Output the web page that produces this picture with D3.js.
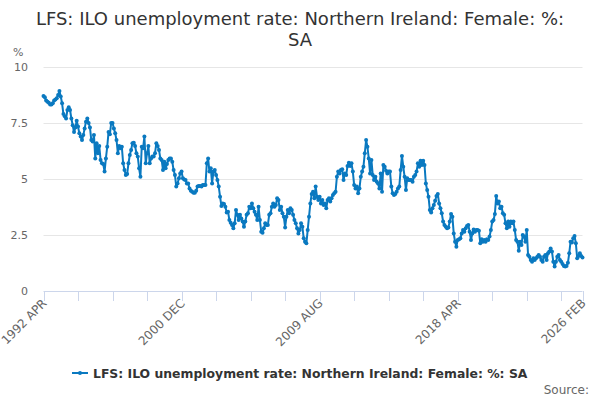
<!DOCTYPE html>
<meta charset="utf-8">
<style>
body { margin: 0; background: #fff; }
text { font-family: "DejaVu Sans", sans-serif; }
</style>
<svg width="600" height="400"></svg>
<script src="https://cdn.jsdelivr.net/npm/d3@7"></script>
<script>

// monthly values, April 1992 .. February 2026 (one row = Apr..Mar)
var rate = [
  8.7, 8.65, 8.5, 8.45, 8.4, 8.33, 8.33, 8.38, 8.5, 8.55, 8.6, 8.75,
  8.93, 8.68, 8.38, 7.9, 7.8, 7.7, 8.08, 8.2, 8.08, 7.7, 7.4, 7.1,
  7.3, 7.6, 7.34, 7.04, 6.9, 6.74, 6.96, 7.26, 7.56, 7.7, 7.5, 7.3,
  6.74, 6.67, 6.96, 5.92, 6.6, 6.15, 6.47, 5.85, 5.7, 5.67, 5.33, 5.92,
  6.44, 7.1, 7.0, 7.5, 7.5, 7.26, 7.04, 6.74, 6.15, 6.47, 6.37, 6.44,
  5.7, 5.4, 5.18, 5.22, 5.7, 6.07, 6.3, 6.6, 6.62, 6.47, 6.15, 6.0,
  5.48, 5.1, 6.44, 6.37, 6.9, 5.7, 6.15, 6.47, 5.7, 5.92, 6.0, 6.0,
  6.15, 6.6, 6.47, 6.3, 5.92, 5.85, 5.4, 5.77, 5.48, 5.67, 5.85, 5.92,
  5.92, 5.77, 5.4, 5.18, 4.66, 4.8, 5.03, 5.25, 5.33, 5.03, 4.98, 4.96,
  4.8, 4.8, 4.58, 4.48, 4.43, 4.39, 4.39, 4.48, 4.66, 4.69, 4.69, 4.66,
  4.73, 4.73, 4.73, 5.7, 5.92, 5.33, 5.48, 4.8, 5.33, 5.4, 5.18, 4.96,
  4.66, 4.21, 3.8, 3.91, 3.88, 3.76, 3.5, 3.54, 3.17, 3.05, 2.95, 2.8,
  3.02, 3.62, 3.4, 3.17, 3.4, 3.24, 3.1, 2.87, 3.1, 3.4, 3.47, 3.76,
  3.69, 3.91, 3.69, 3.54, 3.4, 3.17, 3.76, 3.17, 2.65, 2.6, 2.8, 3.02,
  2.95, 2.95, 3.4, 3.47, 3.76, 3.91, 3.76, 3.84, 4.14, 4.06, 3.62, 3.76,
  3.47, 3.32, 2.84, 3.32, 3.62, 3.47, 3.69, 3.62, 3.4, 3.17, 3.02, 2.8,
  2.57, 2.72, 3.02, 2.87, 2.35, 2.2, 2.13, 2.72, 3.32, 3.91, 4.33, 4.43,
  4.14, 4.66, 4.21, 4.06, 4.21, 3.91, 4.06, 3.84, 3.91, 3.69, 4.06, 4.14,
  3.99, 4.14, 4.29, 4.36, 4.43, 5.1, 5.33, 5.25, 5.4, 5.43, 4.96, 5.25,
  5.18, 5.58, 5.73, 5.58, 5.7, 5.33, 4.73, 4.58, 4.66, 4.36, 4.58, 5.1,
  5.33, 5.55, 6.15, 6.74, 6.44, 5.92, 5.25, 5.85, 5.18, 4.96, 5.1, 4.88,
  4.8, 4.58, 5.25, 4.43, 5.63, 5.55, 5.37, 5.25, 5.33, 5.33, 4.66, 4.36,
  4.29, 4.33, 4.43, 4.58, 4.66, 5.4, 6.03, 5.55, 5.1, 4.51, 5.03, 4.96,
  4.96, 4.96, 4.88, 5.1, 5.18, 5.33, 5.7, 5.55, 5.82, 5.63, 5.82, 5.63,
  4.8, 4.51, 4.21, 3.62, 3.5, 3.69, 3.84, 4.03, 4.24, 4.33, 3.91, 3.69,
  3.47, 3.1, 2.95, 2.87, 2.8, 2.84, 3.1, 3.44, 3.32, 2.57, 2.2, 1.98,
  2.28, 2.31, 2.35, 2.57, 2.72, 2.65, 2.8, 2.9, 2.95, 2.65, 2.28, 2.57,
  2.75, 2.65, 2.72, 2.72, 2.69, 2.13, 2.31, 2.2, 2.28, 2.2, 2.31, 2.28,
  2.43, 2.72, 3.1, 3.17, 3.44, 4.24, 3.91, 3.99, 3.69, 3.76, 3.47, 3.4,
  3.02, 2.8, 3.1, 2.87, 3.1, 3.02, 3.1, 2.72, 2.28, 2.2, 1.8, 2.2,
  2.05, 2.5, 2.43, 2.2, 2.72, 1.61, 1.53, 1.38, 1.31, 1.46, 1.38, 1.46,
  1.53, 1.61, 1.53, 1.38, 1.31, 1.53, 1.61, 1.38, 1.68, 1.76, 1.9, 1.76,
  1.31, 1.09, 1.31, 1.53, 1.61, 1.38, 1.31, 1.21, 1.12, 1.09, 1.12, 1.26,
  1.68, 2.2, 2.16, 2.35, 2.46, 2.13, 1.46, 1.56, 1.68, 1.56, 1.5
];

var startYear = 1992, startMonth = 3;   // April (0-based)
var monthNames = ["JAN", "FEB", "MAR", "APR", "MAY", "JUN", "JUL", "AUG", "SEP", "OCT", "NOV", "DEC"];
var yTicks = [0, 2.5, 5, 7.5, 10];
var tickStep = 26;          // months between x ticks
var labelEvery = 4;         // label every 4th tick
var titleLines = ["LFS: ILO unemployment rate: Northern Ireland: Female: %:", "SA"];
var seriesName = "LFS: ILO unemployment rate: Northern Ireland: Female: %: SA";

var colour = "#0a79c0";

// note: "top" is taken by window.top, so use plot* names
var svg = d3.select("svg"),
    plotLeft = 43.5, plotRight = 582.5, plotTop = 67, plotBottom = 291;

var last = rate.length - 1;

var x = d3.scaleLinear().domain([0, last]).range([plotLeft, plotRight]);
var y = d3.scaleLinear().domain([0, 10]).range([plotBottom, plotTop]);

function label(i) {
  var m = startMonth + i;
  return (startYear + Math.floor(m / 12)) + " " + monthNames[m % 12];
}

// title
svg.append("text")
    .attr("x", 300)
    .attr("y", 25)
    .attr("text-anchor", "middle")
    .attr("font-size", 18)
    .attr("fill", "#333")
  .selectAll("tspan")
  .data(titleLines)
  .enter().append("tspan")
    .attr("x", 300)
    .attr("dy", function(d, i) { return i ? 21 : 0; })
    .text(function(d) { return d; });

// gridlines + y labels
svg.append("g")
  .selectAll("line")
  .data(yTicks.filter(function(d) { return d > 0; }))
  .enter().append("line")
    .attr("x1", plotLeft).attr("x2", plotRight)
    .attr("y1", function(d) { return y(d) + 0.5; })
    .attr("y2", function(d) { return y(d) + 0.5; })
    .attr("stroke", "#e6e6e6");

svg.append("g")
    .attr("font-size", 11)
    .attr("fill", "#666")
    .attr("text-anchor", "end")
  .selectAll("text")
  .data(yTicks)
  .enter().append("text")
    .attr("x", 28)
    .attr("y", function(d) { return y(d); })
    .attr("dy", "0.35em")
    .text(function(d) { return d; });

svg.append("text")
    .attr("x", 13)
    .attr("y", 56)
    .attr("font-size", 11)
    .attr("fill", "#666")
    .text("%");

// x axis
var tickIdx = d3.range(0, last, tickStep).concat([last]);
var labelIdx = tickIdx.filter(function(d, i) { return i % labelEvery === 0 || d === last; });

var xa = svg.append("g");
xa.append("line")
    .attr("x1", plotLeft).attr("x2", plotRight)
    .attr("y1", plotBottom + 0.5).attr("y2", plotBottom + 0.5)
    .attr("stroke", "#ccd6eb");
xa.selectAll(".tick")
  .data(tickIdx)
  .enter().append("line")
    .attr("x1", function(d) { return Math.round(x(d)) + 0.5; })
    .attr("x2", function(d) { return Math.round(x(d)) + 0.5; })
    .attr("y1", plotBottom).attr("y2", plotBottom + 10)
    .attr("stroke", "#ccd6eb");
xa.selectAll("text")
  .data(labelIdx)
  .enter().append("text")
    .attr("transform", function(d) { return "translate(" + (x(d) + 4) + "," + (plotBottom + 13) + ") rotate(-45)"; })
    .attr("text-anchor", "end")
    .attr("font-size", 12)
    .attr("fill", "#666")
    .text(label);

// series
var line = d3.line()
    .x(function(d, i) { return x(i); })
    .y(function(d) { return y(d); });

svg.append("path")
    .datum(rate)
    .attr("fill", "none")
    .attr("stroke", colour)
    .attr("stroke-width", 2)
    .attr("stroke-linejoin", "round")
    .attr("d", line);

svg.append("g")
    .attr("fill", colour)
  .selectAll("circle")
  .data(rate)
  .enter().append("circle")
    .attr("cx", function(d, i) { return x(i); })
    .attr("cy", function(d) { return y(d); })
    .attr("r", 2);

// legend
var lg = svg.append("g").attr("transform", "translate(72,373)");
lg.append("line")
    .attr("x1", 0).attr("x2", 16)
    .attr("stroke", colour)
    .attr("stroke-width", 2);
lg.append("circle")
    .attr("cx", 8).attr("r", 2)
    .attr("fill", colour);
lg.append("text")
    .attr("x", 21)
    .attr("y", 5)
    .attr("font-size", 12.4)
    .attr("font-weight", "bold")
    .attr("fill", "#333")
    .text(seriesName);

svg.append("text")
    .attr("x", 589)
    .attr("y", 394)
    .attr("text-anchor", "end")
    .attr("font-size", 12)
    .attr("fill", "#666")
    .text("Source:");

</script>
